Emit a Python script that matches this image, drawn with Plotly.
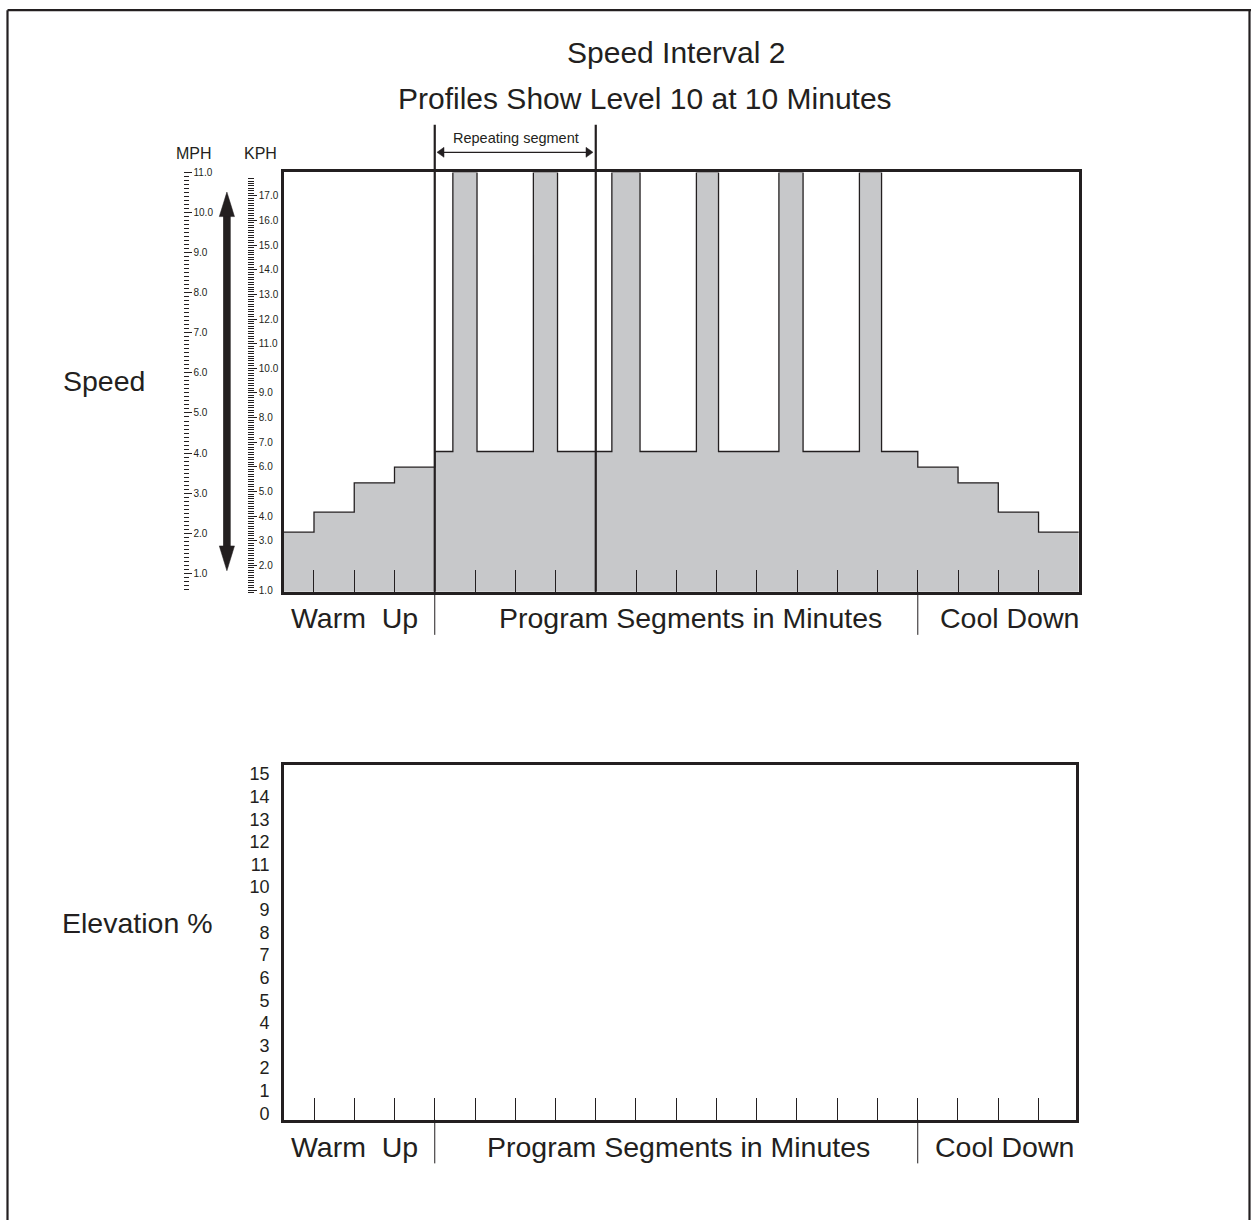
import plotly.graph_objects as go

# ---------------- data ----------------
segment_start_min = [0, 1, 2, 3, 4, 4.45, 5.05, 6.45, 7.05, 8.4, 9.1, 10.5, 11.05,
                     12.55, 13.15, 14.55, 15.1, 16, 17, 18, 19, 20]
speed_mph = [2.03, 2.53, 3.26, 3.65, 4.04, 11.0, 4.04, 11.0, 4.04, 11.0, 4.04, 11.0, 4.04,
             11.0, 4.04, 11.0, 4.04, 3.65, 3.26, 2.53, 2.03, 2.03]
elevation_time = []          # elevation profile is blank in this program
elevation_pct = []
elevation_ticks = list(range(0, 16))
phase_labels = ["Warm\u00a0 Up", "Program Segments in Minutes", "Cool Down"]
title_lines = ["Speed Interval 2", "Profiles Show Level 10 at 10 Minutes"]
repeat_label = "Repeating segment"

# ---------------- geometry helpers ----------------
W, H = 1251, 1224
INK = "#231f20"
FILL = "#c7c8ca"
FONT = "Liberation Sans, Arial, Helvetica, sans-serif"


def PX(x):
    return x / W


def PY(y):
    return 1 - y / H


fig = go.Figure()

# speed profile
fig.add_trace(go.Scatter(
    x=segment_start_min, y=speed_mph, mode="lines",
    line=dict(shape="hv", color=INK, width=1.3),
    fill="tozeroy", fillcolor=FILL,
    xaxis="x", yaxis="y", hoverinfo="skip", showlegend=False))

# elevation profile (empty)
fig.add_trace(go.Scatter(
    x=elevation_time, y=elevation_pct, mode="lines",
    line=dict(color=INK, width=1.3),
    xaxis="x2", yaxis="y2", hoverinfo="skip", showlegend=False))

# rulers (MPH / KPH)
for ya in ("y3", "y4"):
    fig.add_trace(go.Scatter(x=[None], y=[None], mode="lines", xaxis="x3", yaxis=ya,
                             hoverinfo="skip", showlegend=False))

common_off = dict(showgrid=False, zeroline=False, fixedrange=True)

fig.update_layout(
    width=W, height=H,
    margin=dict(l=0, r=0, t=0, b=0),
    paper_bgcolor="white", plot_bgcolor="rgba(0,0,0,0)",
    font=dict(family=FONT, color=INK),
    showlegend=False,
    xaxis=dict(domain=[PX(283.6), PX(1078.8)], range=[0.245, 20.0], anchor="y",
               showline=True, mirror=True, linewidth=2.5, linecolor=INK,
               ticks="inside", ticklen=22, tickwidth=1.2, tickcolor=INK,
               tick0=0, dtick=1, showticklabels=False, **common_off),
    yaxis=dict(domain=[PY(591.5), PY(169.5)], range=[0.549, 10.995], anchor="x",
               showline=True, mirror=True, linewidth=2.5, linecolor=INK,
               ticks="", showticklabels=False, **common_off),
    xaxis2=dict(domain=[PX(283.9), PX(1076.3)], range=[0.252, 19.94], anchor="y2",
                showline=True, mirror=True, linewidth=2.5, linecolor=INK,
                ticks="inside", ticklen=22, tickwidth=1.2, tickcolor=INK,
                tick0=0, dtick=1, showticklabels=False, **common_off),
    yaxis2=dict(domain=[PY(1123.1), PY(766.2)], range=[-0.281, 15.39], anchor="x2",
                showline=True, mirror=True, linewidth=2.5, linecolor=INK,
                ticks="", tickvals=elevation_ticks, ticktext=[str(v) for v in elevation_ticks],
                tickfont=dict(size=18, color=INK), ticklabelstandoff=8, **common_off),
    xaxis3=dict(domain=[0.0, 0.05], visible=False, range=[0, 1], anchor="y3"),
    yaxis3=dict(domain=[PY(591.7), PY(168.0)], range=[0.545, 11.03], anchor="free",
                position=PX(182.5), side="right", showline=False,
                ticks="outside", ticklen=8, tickwidth=0.9, tickcolor=INK,
                tick0=0, dtick=1, tickformat=".1f", tickfont=dict(size=10, color=INK),
                minor=dict(ticks="outside", ticklen=5.5, tickwidth=0.9, tickcolor=INK,
                           tick0=0, dtick=0.1),
                **common_off),
    yaxis4=dict(domain=[PY(594.0), PY(175.0)], range=[0.839, 17.73], anchor="free",
                position=PX(247.3), side="right", showline=False,
                ticks="outside", ticklen=8.5, tickwidth=0.9, tickcolor=INK,
                tick0=0, dtick=1, tickformat=".1f", tickfont=dict(size=10, color=INK),
                minor=dict(ticks="outside", ticklen=6, tickwidth=0.8, tickcolor=INK,
                           tick0=0, dtick=0.1),
                **common_off),
)

shapes = []


def pline(x0, y0, x1, y1, w, color=INK):
    shapes.append(dict(type="line", xref="paper", yref="paper",
                       x0=PX(x0), y0=PY(y0), x1=PX(x1), y1=PY(y1),
                       line=dict(color=color, width=w), layer="above"))


def ppath(points):
    d = "M " + " L ".join(f"{PX(x):.5f},{PY(y):.5f}" for x, y in points) + " Z"
    shapes.append(dict(type="path", xref="paper", yref="paper", path=d,
                       fillcolor=INK, line=dict(color=INK, width=0.5), layer="above"))


# outer frame
pline(7.5, 6.2, 7.5, 1224, 2.2)
pline(7.5, 6.2, 1251, 6.2, 2.2)
pline(1249.5, 6.2, 1249.5, 1224, 2.2)

# segment dividers (data x)
for xv, y0, y1, w in [(4, 591.5, 121.5, 2.2), (8, 591.5, 121.5, 2.2),
                      (4, 591.5, 635, 1.0), (16, 591.5, 635, 1.0)]:
    shapes.append(dict(type="line", xref="x", yref="paper", x0=xv, x1=xv,
                       y0=PY(y0), y1=PY(y1), line=dict(color=INK, width=w), layer="above"))
for xv in (4, 16):
    shapes.append(dict(type="line", xref="x2", yref="paper", x0=xv, x1=xv,
                       y0=PY(1123.1), y1=PY(1167), line=dict(color=INK, width=1.0), layer="above"))

# repeating segment arrow
ya = 149.3
pline(443, ya, 587, ya, 1.3)
ppath([(437, ya), (444, ya - 5), (444, ya + 5)])
ppath([(593, ya), (586, ya - 5), (586, ya + 5)])

# big speed arrow
ax = 226.9
pline(ax, 212, ax, 547, 7.5)
ppath([(ax, 189.3), (ax - 7.6, 214), (ax + 7.6, 214)])
ppath([(ax, 570.5), (ax - 7.6, 545.5), (ax + 7.6, 545.5)])

fig.update_layout(shapes=shapes)

ann = []


def text(t, x, y, size, xanchor="center"):
    ann.append(dict(text=t, x=PX(x), y=PY(y), xref="paper", yref="paper",
                    showarrow=False, xanchor=xanchor, yanchor="middle",
                    font=dict(size=size, color=INK, family=FONT)))


text(title_lines[0], 676, 49, 30)
text(title_lines[1], 645, 95, 30)
text(repeat_label, 516, 135, 14.5)
text("MPH", 194, 150, 16)
text("KPH", 260.5, 150, 16)
text("Speed", 104, 379, 28.5)
text("Elevation %", 137, 925, 28.5)

for lab, x in zip(phase_labels, [354, 690, 1009.5]):
    text(lab, x, 618, 28.5)
for lab, x in zip(phase_labels, [354, 678, 1004]):
    text(lab, x, 1151, 28.5)

fig.update_layout(annotations=ann)

fig.write_html("out.html", config={"displayModeBar": False},
               post_script="document.body.style.margin='0';document.body.style.overflow='hidden';")
